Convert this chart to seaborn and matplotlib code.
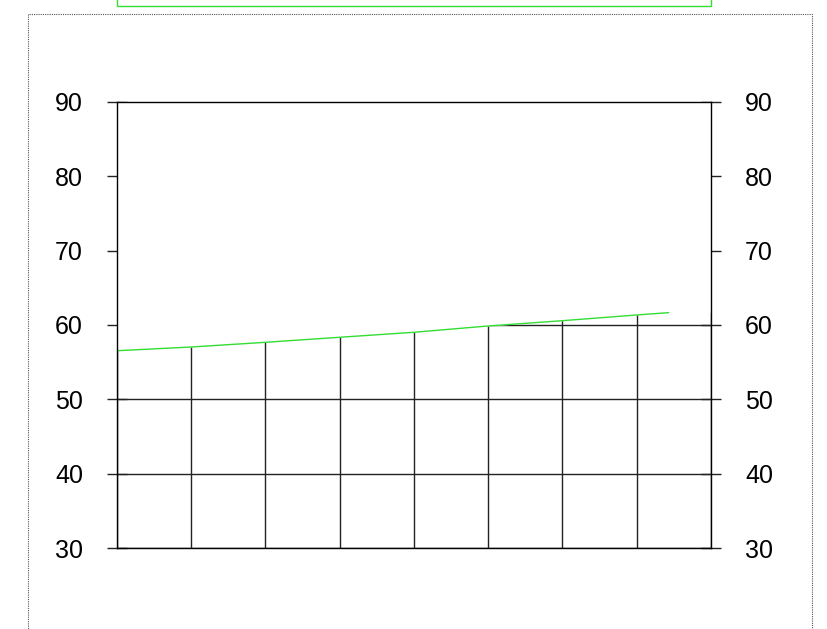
import matplotlib
matplotlib.use("Agg")
import numpy as np
import pandas as pd
import matplotlib.pyplot as plt
import seaborn as sns
from matplotlib.patches import Rectangle

# values
x_vals = [0, 1, 2, 3, 4, 5, 6, 7, 7.43]
y_vals = [56.54, 57.04, 57.67, 58.35, 59.02, 59.87, 60.58, 61.35, 61.66]
x_ticks = [0, 1, 2, 3, 4, 5, 6, 7, 8]
y_ticks = [30, 40, 50, 60, 70, 80, 90]

sns.set_style("white")
plt.rcParams["font.family"] = ["Liberation Sans", "DejaVu Sans"]

df = pd.DataFrame({"x": x_vals, "y": y_vals})

fig = plt.figure(figsize=(8.28, 6.29), dpi=100)
ax = fig.add_axes([117 / 828, 81 / 629, 594 / 828, 446 / 629])

ax.set_xlim(x_ticks[0], x_ticks[-1])
ax.set_ylim(y_ticks[0], y_ticks[-1])
ax.set_xticks(x_ticks)
ax.set_yticks(y_ticks)
ax.set_xticklabels([])

# grid, then a white area above the curve hides the upper part of it
ax.grid(True, color="#222222", linewidth=1.0, zorder=0.5)
ax.set_axisbelow(True)
fx = x_vals + [x_ticks[-1]]
fy = y_vals + [y_vals[-1]]
ax.fill_between(fx, fy, y_ticks[-1], color="white", zorder=1.5, linewidth=0)

sns.lineplot(data=df, x="x", y="y", color="#33dd33", linewidth=1.0, ax=ax, zorder=3)
ax.set_xlabel("")
ax.set_ylabel("")

for s in ax.spines.values():
    s.set_visible(True)
    s.set_color("black")
    s.set_linewidth(1.0)
    s.set_zorder(4)

ax.tick_params(axis="x", length=0)
ax.tick_params(axis="y", direction="inout", length=15, width=1, color="#222222",
               left=True, right=True, labelleft=True, labelright=True,
               labelsize=18, labelcolor="black", pad=17)

# outer dotted frame and the green box at the top
fig.patches.append(Rectangle((28 / 828, -0.05), 784 / 828, 1.05 - 14 / 629,
                             transform=fig.transFigure, fill=False,
                             edgecolor="#555555", linestyle=(0, (1, 1)), linewidth=0.8))
fig.patches.append(Rectangle((117 / 828, 1 - 6 / 629), 594 / 828, 0.05,
                             transform=fig.transFigure, facecolor="white",
                             edgecolor="#33dd33", linewidth=1.0))

fig.savefig("out.png", dpi=100)
